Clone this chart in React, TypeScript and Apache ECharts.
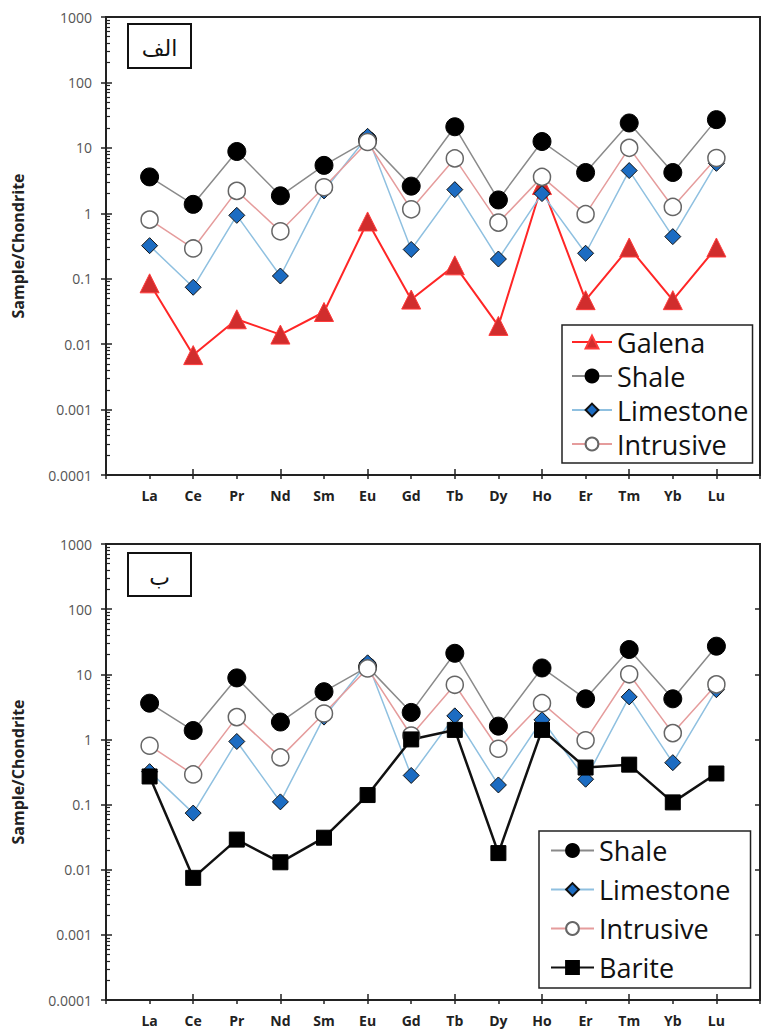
import React, { useEffect, useRef } from "react";
import * as echarts from "echarts";

const categories = ["La", "Ce", "Pr", "Nd", "Sm", "Eu", "Gd", "Tb", "Dy", "Ho", "Er", "Tm", "Yb", "Lu"];
const yTickLabels = ["0.0001", "0.001", "0.01", "0.1", "1", "10", "100", "1000"];

const galena = [0.085, 0.0068, 0.024, 0.014, 0.031, 0.75, 0.048, 0.16, 0.019, 2.7, 0.047, 0.3, 0.047, 0.3];
const shale = [3.6, 1.37, 8.8, 1.85, 5.4, 13, 2.6, 21, 1.6, 12.5, 4.2, 24, 4.2, 27];
const limestone = [0.32, 0.074, 0.93, 0.11, 2.2, 15, 0.28, 2.3, 0.2, 2.0, 0.245, 4.5, 0.44, 5.8];
const intrusive = [0.8, 0.29, 2.2, 0.53, 2.5, 12.3, 1.15, 6.9, 0.72, 3.6, 0.97, 10, 1.25, 7];
const barite = [0.27, 0.0075, 0.029, 0.013, 0.031, 0.14, 1.0, 1.4, 0.018, 1.4, 0.37, 0.41, 0.108, 0.3];

const AXIS = "#222";
const FONT = "Open Sans";

function xLabelAxis(gridIndex: number) {
  return {
    type: "value",
    gridIndex,
    position: "bottom",
    min: 0,
    max: 15,
    interval: 1,
    axisLine: { show: true, lineStyle: { color: AXIS, width: 2 } },
    axisTick: { show: true, length: 4, lineStyle: { color: AXIS, width: 1.5 } },
    axisLabel: {
      margin: 13,
      fontSize: 14,
      fontWeight: "bold",
      fontFamily: FONT,
      color: "#222",
      formatter: (v: number) => categories[Math.round(v) - 1] ?? "",
    },
    splitLine: { show: false },
  };
}

function xMajorAxis(gridIndex: number) {
  return {
    type: "value",
    gridIndex,
    position: "bottom",
    min: 0,
    max: 15,
    interval: 2,
    axisLine: { show: false },
    axisTick: { show: true, inside: true, length: 6, lineStyle: { color: AXIS, width: 1.5 } },
    axisLabel: { show: false },
    splitLine: { show: false },
  };
}

function yMainAxis(gridIndex: number) {
  return {
    type: "log",
    logBase: 10,
    gridIndex,
    position: "left",
    min: 0.0001,
    max: 1000,
    splitNumber: 7,
    name: "Sample/Chondrite",
    nameLocation: "middle",
    nameGap: 80,
    nameTextStyle: { fontSize: 16, fontWeight: "bold", fontFamily: FONT, color: "#222" },
    axisLine: { show: true, lineStyle: { color: AXIS, width: 2 } },
    axisTick: { show: true, inside: true, length: 6, lineStyle: { color: AXIS, width: 1.5 } },
    minorTick: { show: true, splitNumber: 9, length: 4, lineStyle: { color: AXIS, width: 1.2 } },
    axisLabel: {
      margin: 14,
      fontSize: 14,
      fontFamily: FONT,
      color: "#555",
      formatter: (v: number) => yTickLabels[Math.round(Math.log10(v)) + 4] ?? "",
    },
    splitLine: { show: false },
    minorSplitLine: { show: false },
  };
}

function yOuterTicks(gridIndex: number, position: string, inside: boolean) {
  return {
    type: "log",
    logBase: 10,
    gridIndex,
    position,
    min: 0.0001,
    max: 1000,
    splitNumber: 7,
    axisLine: { show: false },
    axisTick: { show: true, inside, length: 5, lineStyle: { color: AXIS, width: 1.5 } },
    axisLabel: { show: false },
    splitLine: { show: false },
  };
}

const styles: Record<string, any> = {
  Galena: {
    symbol: "triangle",
    symbolSize: 19,
    lineStyle: { color: "#ff2626", width: 2 },
    itemStyle: { color: "#d12d2d", borderColor: "#ff3a3a", borderWidth: 1 },
  },
  Shale: {
    symbol: "circle",
    symbolSize: 18,
    lineStyle: { color: "#8a8a8a", width: 1.5 },
    itemStyle: { color: "#000", borderColor: "#000", borderWidth: 1 },
  },
  Limestone: {
    symbol: "diamond",
    symbolSize: 16,
    lineStyle: { color: "#8fc0e0", width: 1.5 },
    itemStyle: { color: "#1c6cc2", borderColor: "#111", borderWidth: 1 },
  },
  Intrusive: {
    symbol: "circle",
    symbolSize: 17,
    lineStyle: { color: "#e59c9c", width: 1.5 },
    itemStyle: { color: "#fff", borderColor: "#666", borderWidth: 1.5 },
  },
  Barite: {
    symbol: "rect",
    symbolSize: 15,
    lineStyle: { color: "#111", width: 2.5 },
    itemStyle: { color: "#000", borderColor: "#000", borderWidth: 1 },
  },
};

function makeSeries(name: string, values: number[], gridIndex: number) {
  return {
    type: "line",
    name,
    xAxisIndex: gridIndex === 0 ? 0 : 2,
    yAxisIndex: gridIndex === 0 ? 0 : 2,
    data: values.map((v, i) => [i + 1, v]),
    showSymbol: true,
    clip: false,
    ...styles[name],
    emphasis: { disabled: true },
  };
}

function legendBox(left: number, top: number, lineHeight: number, itemWidth: number, padding: number[], names: string[]) {
  return {
    show: true,
    orient: "vertical",
    left,
    top,
    itemGap: 0,
    itemWidth,
    itemHeight: 16,
    padding,
    borderColor: "#222",
    borderWidth: 1.5,
    borderRadius: 0,
    backgroundColor: "#fff",
    selectedMode: false,
    textStyle: { fontSize: 27, fontFamily: FONT, color: "#111", lineHeight },
    data: names,
  };
}

function labelBox(x: number, y: number, w: number, h: number, text: string, ty: number) {
  return {
    type: "group",
    children: [
      { type: "rect", shape: { x, y, width: w, height: h }, style: { fill: "#fff", stroke: "#111", lineWidth: 2 } },
      {
        type: "text",
        x: x + w / 2,
        y: ty,
        style: { text, fontSize: 22, fontFamily: "DejaVu Sans", fill: "#111", align: "center", verticalAlign: "middle" },
      },
    ],
  };
}

export default function App() {
  const ref = useRef<HTMLDivElement>(null);
  useEffect(() => {
    if (!ref.current) return;
    const chart = echarts.init(ref.current, null, { renderer: "svg" });
    const option: any = {
      animation: false,
      backgroundColor: "#fff",
      grid: [
        { left: 106, right: -3, top: 17, bottom: 559, show: true, borderColor: AXIS, borderWidth: 2, backgroundColor: "transparent" },
        { left: 106, right: -3, top: 544, bottom: 34, show: true, borderColor: AXIS, borderWidth: 2, backgroundColor: "transparent" },
      ],
      xAxis: [xLabelAxis(0), xMajorAxis(0), xLabelAxis(1), xMajorAxis(1)],
      yAxis: [
        yMainAxis(0),
        yOuterTicks(0, "left", false),
        yMainAxis(1),
        yOuterTicks(1, "left", false),
        yOuterTicks(1, "right", true),
      ],
      legend: [
        legendBox(562, 325, 34, 40, [0, 4, 2, 9], ["Galena", "Shale", "Limestone", "Intrusive"]),
        legendBox(539, 831, 39, 43, [0, 20, 1, 11], ["Shale", "Limestone", "Intrusive", "Barite"]),
      ],
      graphic: [labelBox(128, 24, 63, 44, "الف", 48), labelBox(128, 553, 63, 43, "ب", 577)],
      series: [
        makeSeries("Galena", galena, 0),
        makeSeries("Shale", shale, 0),
        makeSeries("Limestone", limestone, 0),
        makeSeries("Intrusive", intrusive, 0),
        makeSeries("Shale", shale, 1),
        makeSeries("Limestone", limestone, 1),
        makeSeries("Intrusive", intrusive, 1),
        makeSeries("Barite", barite, 1),
      ],
    };
    chart.setOption(option);
    return () => chart.dispose();
  }, []);
  return <div ref={ref} style={{ position: "absolute", left: 0, top: 0, width: 763, height: 1034 }} />;
}
